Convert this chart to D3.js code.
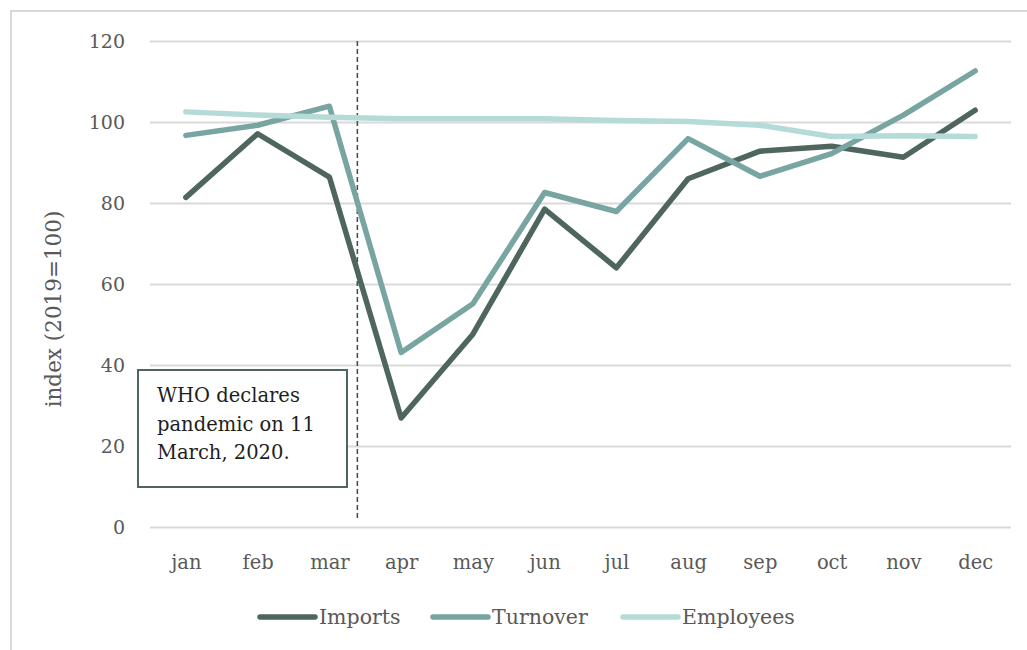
<!DOCTYPE html>
<html>
<head>
<meta charset="utf-8">
<script src="https://cdn.jsdelivr.net/npm/d3@7"></script>
<style>
  html, body { margin: 0; padding: 0; background: #fff; }
  svg { display: block; font-family: "Palatino Linotype", "Book Antiqua", Palatino, "DejaVu Serif", serif; }
</style>
</head>
<body>
<svg id="chart" width="1027" height="650"></svg>
<script>
const months = ["jan","feb","mar","apr","may","jun","jul","aug","sep","oct","nov","dec"];
const imports   = [81.4, 97.1, 86.4, 26.9, 47.6, 78.5, 64.0, 86.0, 92.8, 94.0, 91.3, 102.9];
const turnover  = [96.7, 99.2, 103.9, 43.1, 55.1, 82.6, 77.9, 95.9, 86.6, 92.2, 101.7, 112.6];
const employees = [102.5, 101.7, 101.2, 100.8, 100.8, 100.8, 100.4, 100.1, 99.2, 96.4, 96.6, 96.4];
const seriesNames = ["Imports", "Turnover", "Employees"];
const yTicks = [0, 20, 40, 60, 80, 100, 120];
const eventMonthIndex = 2.39; // 11 March 2020
const annotationLines = ["WHO declares", "pandemic on 11", "March, 2020."];
const yTitle = "index (2019=100)";

const colors = ["#4f665e", "#78a5a1", "#b5dbd8"];
const seriesData = [imports, turnover, employees];

const svg = d3.select("#chart");
const W = 1027, H = 650;
const plot = { left: 150, right: 1011, top: 41, bottom: 527 };
const FONT = '"Palatino Linotype", "Book Antiqua", Palatino, "DejaVu Serif", serif';

// outer frame
svg.append("rect")
  .attr("x", 11).attr("y", 11).attr("width", W + 20).attr("height", H + 20)
  .attr("fill", "#fff").attr("stroke", "#d9d9d9").attr("stroke-width", 2);

const x = d3.scalePoint().domain(months).range([plot.left, plot.right]).padding(0.5);
const y = d3.scaleLinear().domain([0, 120]).range([plot.bottom, plot.top]);
const step = x.step();
const xIdx = i => x(months[0]) + i * step;

// gridlines + y tick labels
const yAxis = d3.axisLeft(y).tickValues(yTicks).tickSize(-(plot.right - plot.left)).tickPadding(25);
const gy = svg.append("g").attr("transform", `translate(${plot.left},0)`).call(yAxis)
  .attr("font-family", FONT).attr("font-size", 19);
gy.select(".domain").remove();
gy.selectAll(".tick line").attr("stroke", "#d9d9d9").attr("stroke-width", 2);
gy.selectAll(".tick text").attr("fill", "#595959").attr("dy", "0.35em");

// x axis labels
const xAxis = d3.axisBottom(x).tickSize(0).tickPadding(35);
const gx = svg.append("g").attr("transform", `translate(0,${plot.bottom})`).call(xAxis)
  .attr("font-family", FONT).attr("font-size", 19.5);
gx.select(".domain").remove();
gx.selectAll(".tick text").attr("fill", "#595959").attr("dy", "0.35em");

// y title
svg.append("text")
  .attr("transform", `translate(53,${(plot.top + plot.bottom) / 2 + 25}) rotate(-90)`)
  .attr("text-anchor", "middle").attr("dy", "0.35em")
  .attr("fill", "#595959").attr("font-size", 21.5)
  .text(yTitle);

// dashed event line
svg.append("line")
  .attr("x1", xIdx(eventMonthIndex)).attr("x2", xIdx(eventMonthIndex))
  .attr("y1", y(120)).attr("y2", y(2))
  .attr("stroke", "#3f5550").attr("stroke-width", 1.6).attr("stroke-dasharray", "5,3");

// annotation box
svg.append("rect")
  .attr("x", 138).attr("y", 370).attr("width", 209).attr("height", 117)
  .attr("fill", "#fff").attr("stroke", "#4f665e").attr("stroke-width", 2);
svg.append("g").selectAll("text").data(annotationLines).join("text")
  .attr("x", 157).attr("y", (d, i) => 402 + i * 28.5)
  .attr("fill", "#1e1e1e").attr("font-size", 19.5)
  .text(d => d);

// lines
const line = d3.line().x((d, i) => x(months[i])).y(d => y(d));
svg.append("g").selectAll("path").data(seriesData).join("path")
  .attr("d", d => line(d))
  .attr("fill", "none")
  .attr("stroke", (d, i) => colors[i])
  .attr("stroke-width", 5.5)
  .attr("stroke-linejoin", "round")
  .attr("stroke-linecap", "round");

// legend
const legendX = [260, 433, 623];
const lg = svg.append("g").selectAll("g").data(seriesNames).join("g")
  .attr("transform", (d, i) => `translate(${legendX[i]},617)`);
lg.append("line").attr("x1", 0).attr("x2", 55).attr("y1", 0).attr("y2", 0)
  .attr("stroke", (d, i) => colors[i]).attr("stroke-width", 5.5).attr("stroke-linecap", "round");
lg.append("text").attr("x", 59).attr("dy", "0.35em")
  .attr("fill", "#595959").attr("font-size", 20.5).text(d => d);
</script>
</body>
</html>
